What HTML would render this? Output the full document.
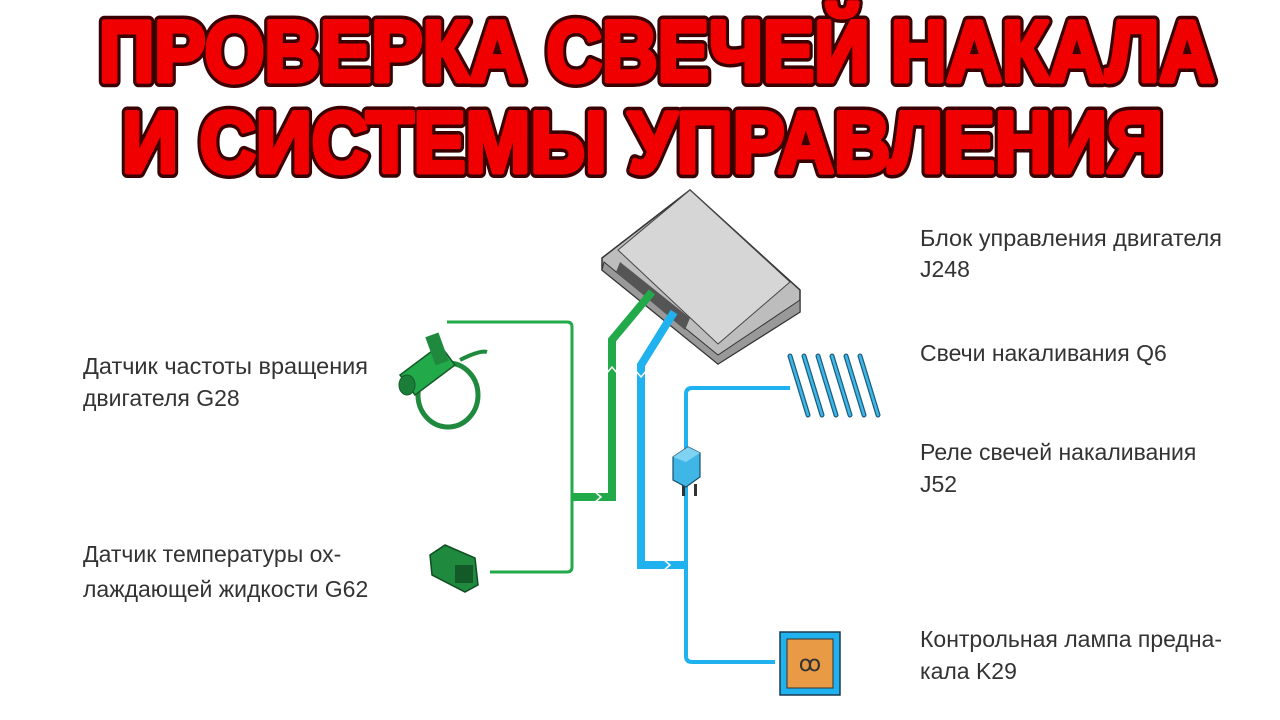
<!DOCTYPE html>
<html><head><meta charset="utf-8"><style>
html,body{margin:0;padding:0;background:#fff;width:1280px;height:720px;overflow:hidden}
svg{display:block}
.t{font-family:"Liberation Sans","DejaVu Sans",sans-serif;font-weight:bold;font-size:86px;stroke-linejoin:round}
.o{fill:#3a0000;stroke:#3a0000;stroke-width:12px}
.f{fill:#f00000;stroke:#f00000;stroke-width:5px}
.l{font-family:"Liberation Sans","DejaVu Sans",sans-serif;font-size:23px;fill:#333}
</style></head><body>
<svg width="1280" height="720" viewBox="0 0 1280 720">
<text class="t o" x="99" y="81" textLength="1116" lengthAdjust="spacingAndGlyphs">ПРОВЕРКА СВЕЧЕЙ НАКАЛА</text>
<text class="t o" x="122" y="172" textLength="1041" lengthAdjust="spacingAndGlyphs">И СИСТЕМЫ УПРАВЛЕНИЯ</text>
<text class="t f" x="99" y="81" textLength="1116" lengthAdjust="spacingAndGlyphs">ПРОВЕРКА СВЕЧЕЙ НАКАЛА</text>
<text class="t f" x="122" y="172" textLength="1041" lengthAdjust="spacingAndGlyphs">И СИСТЕМЫ УПРАВЛЕНИЯ</text>

<!-- ECU -->
<polygon points="602,258 690,190 800,290 800,312 718,364 602,270" fill="#bdbdbd" stroke="#333" stroke-width="1.5"/>
<polygon points="618,250 690,190 790,282 718,344" fill="#d6d6d6" stroke="#444" stroke-width="1"/>
<polygon points="604,262 718,355 800,300 800,312 718,364 602,270" fill="#999" stroke="#333" stroke-width="1"/>
<polygon points="620,262 690,318 685,330 616,272" fill="#555"/>

<!-- green thin -->
<path d="M447,322 H567 Q572,322 572,327 V567 Q572,572 567,572 H490" fill="none" stroke="#22a94a" stroke-width="3"/>
<!-- green thick -->
<path d="M572,497 H612 V340 L652,292" fill="none" stroke="#22a94a" stroke-width="8"/>
<path d="M594,491 L601,497 L594,503 M606,374 L612,367 L618,374" fill="none" stroke="#fff" stroke-width="1.5"/>
<!-- blue thick -->
<path d="M674,312 L641,365 V565 H686" fill="none" stroke="#1fb2ee" stroke-width="8"/>
<path d="M635,370 L641,377 L647,370 M663,559 L670,565 L663,571" fill="none" stroke="#fff" stroke-width="1.5"/>
<!-- blue thin -->
<path d="M790,388 H692 Q686,388 686,394 V656 Q686,662 692,662 H775" fill="none" stroke="#1fb2ee" stroke-width="4"/>

<!-- relay -->
<rect x="682" y="484" width="3" height="12" fill="#333"/><rect x="694" y="484" width="3" height="12" fill="#333"/>
<polygon points="673,457 688,447 700,453 700,477 686,487 673,480" fill="#3fb6e6" stroke="#1a4f6a" stroke-width="1.2"/>
<polygon points="673,457 688,447 700,453 686,462" fill="#7ed3f3"/>

<!-- glow plugs -->
<g stroke="#1a5f80" stroke-width="5" stroke-linecap="round">
<line x1="790" y1="356" x2="808" y2="415"/><line x1="804" y1="356" x2="822" y2="415"/>
<line x1="818" y1="356" x2="836" y2="415"/><line x1="832" y1="356" x2="850" y2="415"/>
<line x1="846" y1="356" x2="864" y2="415"/><line x1="860" y1="356" x2="878" y2="415"/>
</g>
<g stroke="#3fb6e6" stroke-width="2.5" stroke-linecap="round">
<line x1="790" y1="356" x2="808" y2="415"/><line x1="804" y1="356" x2="822" y2="415"/>
<line x1="818" y1="356" x2="836" y2="415"/><line x1="832" y1="356" x2="850" y2="415"/>
<line x1="846" y1="356" x2="864" y2="415"/><line x1="860" y1="356" x2="878" y2="415"/>
</g>

<!-- lamp -->
<rect x="780" y="632" width="60" height="63" fill="#1fb2ee" stroke="#1a3a50" stroke-width="1.5"/>
<rect x="787" y="639" width="46" height="49" fill="#e99a45" stroke="#333" stroke-width="1"/>
<text x="810" y="671" font-family="Liberation Serif,serif" font-size="22" text-anchor="middle" fill="#333">ꝏ</text>

<!-- speed sensor -->
<ellipse cx="448" cy="395" rx="30" ry="32" fill="none" stroke="#1f8a3e" stroke-width="5"/>
<polygon points="400,375 440,345 455,365 415,395" fill="#22a94a" stroke="#145a28" stroke-width="1.5"/>
<ellipse cx="407" cy="385" rx="8" ry="10" fill="#1b7e38" stroke="#145a28"/>
<rect x="430" y="334" width="14" height="30" fill="#1f8a3e" transform="rotate(-20 437 349)"/>
<path d="M460,360 Q480,350 487,352" fill="none" stroke="#1f8a3e" stroke-width="4"/>

<!-- temp sensor -->
<polygon points="430,555 445,545 475,558 478,585 465,592 432,575" fill="#1f8a3e" stroke="#0e4d22" stroke-width="1.5"/>
<rect x="455" y="565" width="18" height="18" fill="#145a28"/>

<!-- labels -->
<text class="l" x="920" y="246" textLength="302" lengthAdjust="spacingAndGlyphs">Блок управления двигателя</text>
<text class="l" x="920" y="277">J248</text>
<text class="l" x="920" y="361">Свечи накаливания Q6</text>
<text class="l" x="920" y="460">Реле свечей накаливания</text>
<text class="l" x="920" y="492">J52</text>
<text class="l" x="920" y="647">Контрольная лампа предна-</text>
<text class="l" x="920" y="679">кала K29</text>
<text class="l" x="83" y="374" textLength="285" lengthAdjust="spacingAndGlyphs">Датчик частоты вращения</text>
<text class="l" x="83" y="406">двигателя G28</text>
<text class="l" x="83" y="562">Датчик температуры ох-</text>
<text class="l" x="83" y="597">лаждающей жидкости G62</text>
</svg>
</body></html>
